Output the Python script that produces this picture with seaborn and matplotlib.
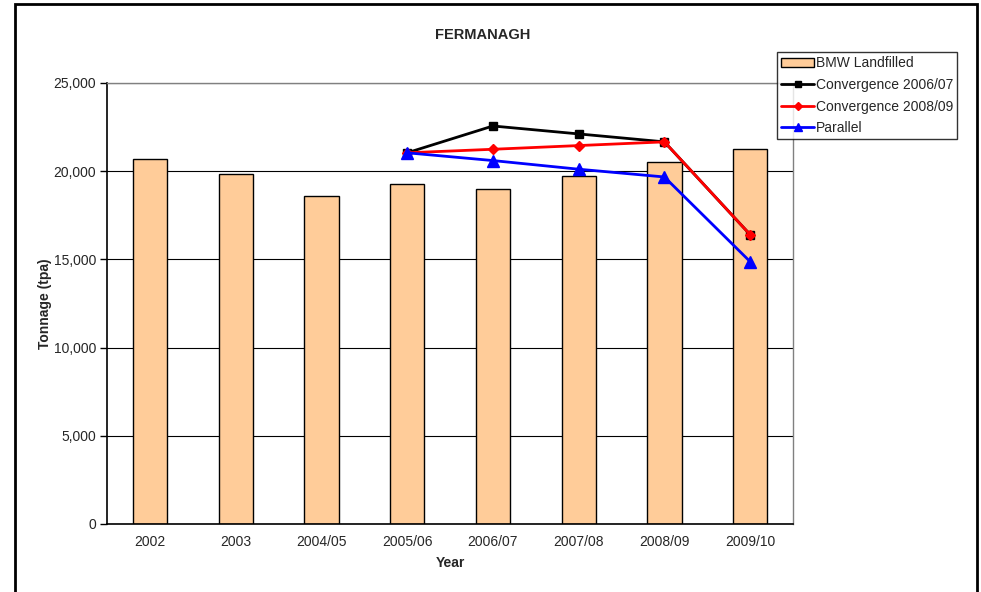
import matplotlib
matplotlib.use("Agg")
import matplotlib.pyplot as plt
import seaborn as sns
import pandas as pd
from matplotlib.patches import Rectangle, Patch
from matplotlib.lines import Line2D

###### Data

years = ["2002", "2003", "2004/05", "2005/06", "2006/07", "2007/08", "2008/09", "2009/10"]
landfilled = [20710, 19860, 18580, 19290, 18970, 19730, 20500, 21280]

line_years = ["2005/06", "2006/07", "2007/08", "2008/09", "2009/10"]
conv_0607 = [21040, 22560, 22110, 21660, 16400]
conv_0809 = [21040, 21240, 21450, 21660, 16400]
parallel = [21040, 20600, 20110, 19670, 14870]

###### Style

sns.set_style("white")
plt.rcParams["font.family"] = ["Liberation Sans", "DejaVu Sans"]

df = pd.DataFrame({"Year": years, "BMW Landfilled": landfilled})

fig = plt.figure(figsize=(9.81, 5.92), dpi=100)
ax = fig.add_axes([0.1091, 0.1149, 0.6993, 0.745])

ax.set_axisbelow(True)
ax.yaxis.grid(True, color="black", linewidth=0.8)

sns.barplot(data=df, x="Year", y="BMW Landfilled", order=years, color="#FFCC99",
            edgecolor="black", linewidth=1, width=0.4, saturation=1, ax=ax)

xpos = [years.index(y) for y in line_years]
ax.plot(xpos, conv_0607, color="black", lw=2, marker="s", markersize=6, zorder=3)
ax.plot(xpos, conv_0809, color="red", lw=2, marker="D", markersize=5, zorder=4)
ax.plot(xpos, parallel, color="blue", lw=2, marker="^", markersize=8, zorder=5)

ax.set_xlim(-0.5, 7.5)
ax.set_ylim(0, 25000)
ax.set_yticks(range(0, 25001, 5000))
ax.set_yticklabels([f"{v:,}" for v in range(0, 25001, 5000)], fontsize=10)
ax.set_xticks(range(len(years)))
ax.set_xticklabels(years, fontsize=10)
ax.set_xticks([i - 0.5 for i in range(len(years) + 1)], minor=True)
ax.tick_params(axis="x", which="major", length=0, pad=8)
ax.tick_params(axis="x", which="minor", length=5, width=1, color="black", direction="out")
ax.tick_params(axis="y", length=5, width=1, color="black", direction="out", left=True, pad=3)

for s in ["left", "bottom"]:
    ax.spines[s].set_color("black")
    ax.spines[s].set_linewidth(1.2)
for s in ["top", "right"]:
    ax.spines[s].set_color("#808080")
    ax.spines[s].set_linewidth(1)

ax.set_xlabel("Year", fontsize=10, fontweight="bold", labelpad=5)
ax.set_ylabel("Tonnage (tpa)", fontsize=10, fontweight="bold", labelpad=1)

fig.text(0.492, 0.941, "FERMANAGH", ha="center", va="center", fontsize=10.5, fontweight="bold")

handles = [
    Patch(facecolor="#FFCC99", edgecolor="black", linewidth=1),
    Line2D([], [], color="black", lw=2, marker="s", markersize=5),
    Line2D([], [], color="red", lw=2, marker="D", markersize=4),
    Line2D([], [], color="blue", lw=2, marker="^", markersize=6),
]
labels = ["BMW Landfilled", "Convergence 2006/07", "Convergence 2008/09", "Parallel"]
leg = fig.legend(handles, labels, loc="upper left", bbox_to_anchor=(0.792, 0.912),
                 fontsize=10, frameon=True, fancybox=False, borderaxespad=0,
                 handlelength=2.4, handletextpad=0.1, labelspacing=0.55, borderpad=0.3)
leg.get_frame().set_edgecolor("black")
leg.get_frame().set_linewidth(1)

# outer chart border
fig.patches.append(Rectangle((15 / 981, -0.01), (977 - 15) / 981, 1.01 - 4 / 592,
                             transform=fig.transFigure, fill=False, edgecolor="black",
                             linewidth=2, zorder=10))

fig.savefig("out.png", dpi=100)
